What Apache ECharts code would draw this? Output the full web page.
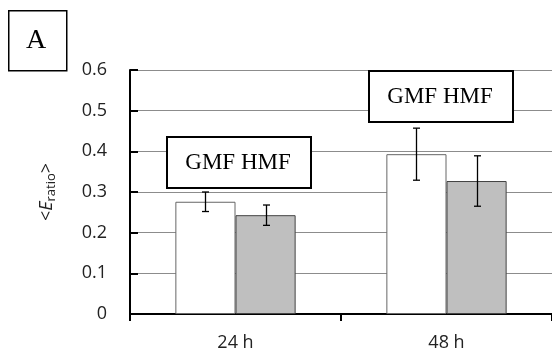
<!DOCTYPE html>
<html>
<head>
<meta charset="utf-8">
<script src="https://cdn.jsdelivr.net/npm/echarts@6/dist/echarts.min.js"></script>
<style>html,body{margin:0;padding:0;background:#fff}#c{width:552px;height:355px}</style>
</head>
<body>
<div id="c"></div>
<script>
var categories = ['24 h', '48 h'];
var gmfValues = [0.276, 0.393];
var hmfValues = [0.243, 0.327];
var gmfErrors = [0.024, 0.064];
var hmfErrors = [0.025, 0.062];
var yTicks = [0, 0.1, 0.2, 0.3, 0.4, 0.5, 0.6];

var chart = echarts.init(document.getElementById('c'), null, {renderer: 'canvas'});
var axisFont = 'Open Sans';
var BAR_GAP_CAT = 0.43;

function errData(vals, errs) {
  return vals.map(function (v, i) { return [i, v - errs[i], v + errs[i]]; });
}
function errRender(side) {
  return function (params, api) {
    var ci = api.value(0);
    var lo = api.coord([ci, api.value(1)]);
    var hi = api.coord([ci, api.value(2)]);
    var band = api.size([1, 0])[0];
    var bw = band * (1 - BAR_GAP_CAT) / 2;
    var x = Math.round(lo[0] + side * bw / 2) + 0.5;
    var cap = 3.5;
    var st = {stroke: '#000', lineWidth: 1.3};
    return {type: 'group', children: [
      {type: 'line', shape: {x1: x, y1: hi[1], x2: x, y2: lo[1]}, style: st},
      {type: 'line', shape: {x1: x - cap, y1: hi[1], x2: x + cap, y2: hi[1]}, style: st},
      {type: 'line', shape: {x1: x - cap, y1: lo[1], x2: x + cap, y2: lo[1]}, style: st}
    ]};
  };
}

chart.setOption({
  animation: false,
  grid: {left: 130, right: 0, top: 70, bottom: 41, containLabel: false},
  xAxis: {
    type: 'category', data: categories,
    axisLine: {lineStyle: {color: '#000', width: 2}},
    axisTick: {show: true, length: 7, inside: false, lineStyle: {color: '#000', width: 2}},
    axisLabel: {fontFamily: axisFont, fontSize: 18, color: '#222', margin: 20}
  },
  yAxis: {
    type: 'value', min: yTicks[0], max: yTicks[yTicks.length - 1], interval: 0.1,
    axisLine: {show: true, lineStyle: {color: '#000', width: 2}},
    axisTick: {show: true, inside: true, length: 8, lineStyle: {color: '#000', width: 2}},
    splitLine: {show: true, lineStyle: {color: '#8c8c8c', width: 1}},
    axisLabel: {fontFamily: axisFont, fontSize: 18, color: '#222', margin: 23,
      formatter: function (v) { return String(Math.round(v * 10) / 10); }},
    name: '{n|<}{e|E}{s|ratio}{n|>}', nameLocation: 'middle', nameGap: 72, nameRotate: 90,
    nameTextStyle: {
      rich: {
        n: {fontFamily: axisFont, fontSize: 18, color: '#222'},
        e: {fontFamily: axisFont, fontSize: 18, fontStyle: 'italic', color: '#222'},
        s: {fontFamily: axisFont, fontSize: 13, color: '#222', verticalAlign: 'bottom', padding: [9, 0, 0, 0]}
      }
    }
  },
  series: [
    {type: 'bar', name: 'GMF', data: gmfValues, barGap: '0%', barCategoryGap: (BAR_GAP_CAT * 100) + '%',
      itemStyle: {color: '#ffffff', borderColor: '#666', borderWidth: 1}, z: 2},
    {type: 'bar', name: 'HMF', data: hmfValues, barGap: '0%', barCategoryGap: (BAR_GAP_CAT * 100) + '%',
      itemStyle: {color: '#bfbfbf', borderColor: '#444', borderWidth: 1}, z: 2},
    {type: 'custom', data: errData(gmfValues, gmfErrors), renderItem: errRender(-1), z: 5, encode: {x: 0, y: [1, 2]}},
    {type: 'custom', data: errData(hmfValues, hmfErrors), renderItem: errRender(1), z: 5, encode: {x: 0, y: [1, 2]}}
  ],
  graphic: [
    {type: 'rect', left: 8, top: 10, shape: {width: 58, height: 60}, style: {fill: '#fff', stroke: '#000', lineWidth: 1.5}, z: 10},
    {type: 'text', x: 36, y: 41, style: {text: 'A', font: '28px "Liberation Serif"', fill: '#000', align: 'center', verticalAlign: 'middle'}, z: 11},
    {type: 'rect', left: 166, top: 136, shape: {width: 144, height: 51}, style: {fill: '#fff', stroke: '#000', lineWidth: 2}, z: 10},
    {type: 'text', x: 238, y: 163, style: {text: 'GMF HMF', font: '23px "Liberation Serif"', fill: '#000', align: 'center', verticalAlign: 'middle'}, z: 11},
    {type: 'rect', left: 368, top: 70, shape: {width: 144, height: 51}, style: {fill: '#fff', stroke: '#000', lineWidth: 2}, z: 10},
    {type: 'text', x: 440, y: 97, style: {text: 'GMF HMF', font: '23px "Liberation Serif"', fill: '#000', align: 'center', verticalAlign: 'middle'}, z: 11}
  ]
});
</script>
</body>
</html>
